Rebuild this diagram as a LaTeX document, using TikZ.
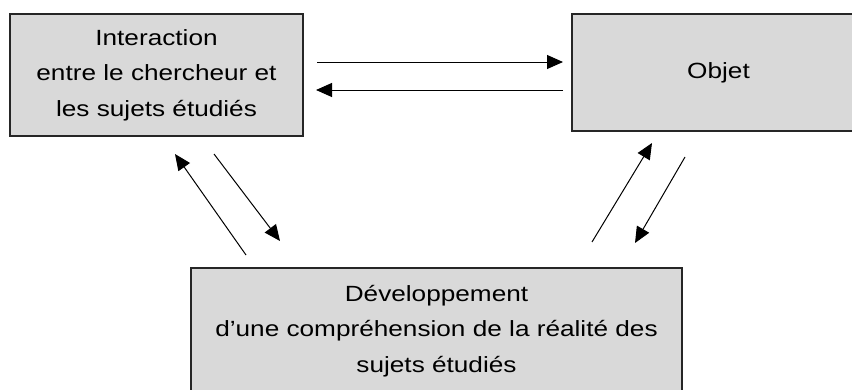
\documentclass[tikz,border=0pt]{standalone}
\usepackage{fontspec}
\setmainfont{Liberation Sans}[FakeStretch=1.19]
\usetikzlibrary{arrows.meta}

\begin{document}
\begin{tikzpicture}[x=0.75pt, y=-0.75pt, every node/.style={align=center, font=\fontsize{16.5pt}{26.5pt}\selectfont}, box/.style={fill=black!15, draw=black!85, line width=1.1pt}, arr/.style={-{Triangle[length=12pt, width=10.5pt]}, line width=0.75pt}]
            \useasboundingbox (0,0) rectangle (852,389);
            \node[box, minimum width=219.75pt, minimum height=91.5pt] (inter) at (156.5,75) {Interaction\\entre le chercheur et\\les sujets étudiés};
            \node[box, minimum width=219.75pt, minimum height=87.75pt] (objet) at (718.5,72.5) {Objet};
            \node[box, minimum width=368.25pt, minimum height=94.5pt] (devel) at (436.5,331) {Développement\\d’une compréhension de la réalité des\\sujets étudiés};

            \coordinate (ioa) at (317,62);
            \coordinate (iob) at (563,62);
            \coordinate (oia) at (563,90);
            \coordinate (oib) at (316,90);
            \coordinate (dia) at (246,255);
            \coordinate (dib) at (175,154);
            \coordinate (ida) at (214,154);
            \coordinate (idb) at (280,241);
            \coordinate (doa) at (592,242);
            \coordinate (dob) at (652,143);
            \coordinate (oda) at (685,157);
            \coordinate (odb) at (635,243);

            \draw[arr] (ioa) -- (iob);
            \draw[arr] (oia) -- (oib);
            \draw[arr] (dia) -- (dib);
            \draw[arr] (ida) -- (idb);
            \draw[arr] (doa) -- (dob);
            \draw[arr] (oda) -- (odb);
        \end{tikzpicture}
\end{document}
